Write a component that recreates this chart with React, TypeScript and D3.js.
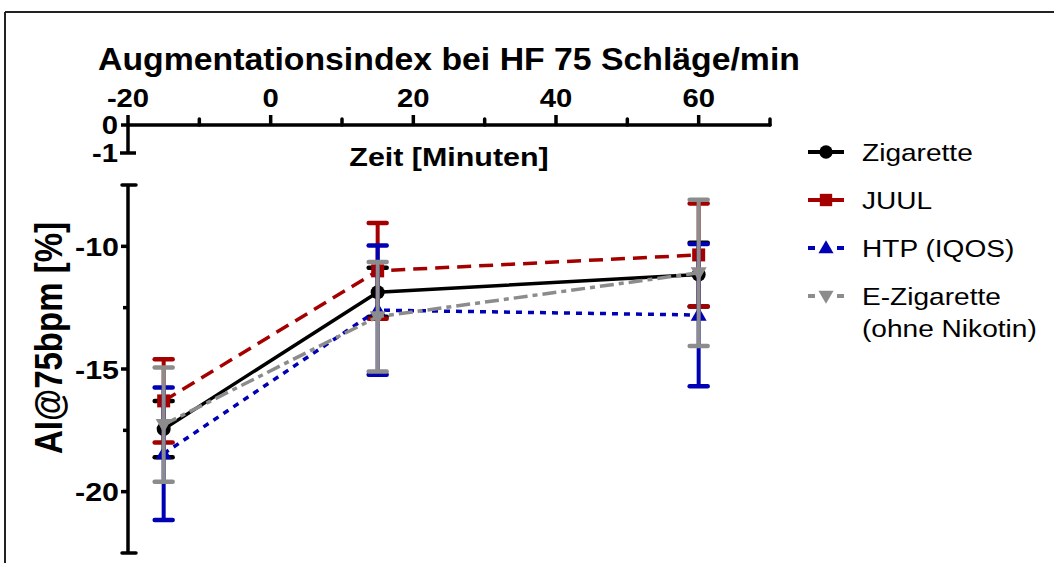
import React from "react";
import * as d3 from "d3";

const times = [-15, 15, 60];
const zigMean = [-17.45, -11.87, -11.15];
const zigErr = [1.15, 1.0, 1.3];
const juulMean = [-16.3, -11.0, -10.35];
const juulErr = [1.7, 1.95, 2.1];
const htpMean = [-18.45, -12.6, -12.8];
const htpErr = [2.7, 2.63, 2.9];
const ecigMean = [-17.27, -12.87, -11.08];
const ecigErr = [2.33, 2.23, 2.98];

const topTicks = [-20, 0, 20, 40, 60];
const topMinor = [-10, 10, 30, 50, 70];
const yTicks = [-10, -15, -20];
const yMinor = [-12.5, -17.5];
const seriesNames = ["Zigarette", "JUUL", "HTP (IQOS)", "E-Zigarette"];

const FONT = "'Liberation Sans', Arial, Helvetica, sans-serif";
const SX = 1.17;

const x = d3.scaleLinear().domain([-20, 70]).range([128, 770]);
const y = d3.scaleLinear().domain([-22.5, -7.5]).range([553, 185]);
const yMini = d3.scaleLinear().domain([-1, 0]).range([153, 125]);

type Series = { name: string; mean: number[]; err: number[]; color: string; dash: string; marker: string };

const series: Series[] = [
  { name: seriesNames[0], mean: zigMean, err: zigErr, color: "#000000", dash: "", marker: "circle" },
  { name: seriesNames[1], mean: juulMean, err: juulErr, color: "#a50000", dash: "14 8", marker: "square" },
  { name: seriesNames[2], mean: htpMean, err: htpErr, color: "#0000b4", dash: "6 6", marker: "up" },
  { name: seriesNames[3], mean: ecigMean, err: ecigErr, color: "#8c8c8c", dash: "14 5 5 5", marker: "down" },
];

function T({ x: tx, y: ty, size, bold, anchor, sx = SX, children }: any) {
  return (
    <text
      transform={`translate(${tx},${ty}) scale(${sx},1)`}
      fontSize={size}
      fontWeight={bold ? "bold" : "normal"}
      textAnchor={anchor || "start"}
      fill="#000"
    >
      {children}
    </text>
  );
}

function Marker({ kind, cx, cy, color, s = 1 }: { kind: string; cx: number; cy: number; color: string; s?: number }) {
  if (kind === "circle") return <circle cx={cx} cy={cy} r={7 * s} fill={color} />;
  if (kind === "square") return <rect x={cx - 6.5 * s} y={cy - 6.5 * s} width={13 * s} height={13 * s} fill={color} />;
  const sym = d3.symbol().type(d3.symbolTriangle).size(110 * s * s)();
  const rot = kind === "down" ? 180 : 0;
  return <path d={sym || ""} transform={`translate(${cx},${cy + (kind === "down" ? -1 : 1)}) rotate(${rot})`} fill={color} />;
}

export default function App() {
  const line = d3
    .line<number>()
    .x((_, i) => x(times[i]))
    .y((d) => y(d));

  const legendY = [152, 200, 248, 296];

  return (
    <svg width={1054} height={563} style={{ position: "absolute", left: 0, top: 0, background: "#fff" }} fontFamily={FONT}>
      <rect x={0} y={0} width={1054} height={563} fill="#fff" />
      {/* frame */}
      <line x1={5} y1={12} x2={1054} y2={12} stroke="#222" strokeWidth={2} />
      <line x1={5} y1={12} x2={5} y2={563} stroke="#222" strokeWidth={2} />

      {/* title */}
      <T x={449} y={70} size={31} bold anchor="middle" sx={1.09}>
        Augmentationsindex bei HF 75 Schläge/min
      </T>

      {/* top axis */}
      <line x1={x(-20)} y1={125} x2={x(70)} y2={125} stroke="#000" strokeWidth={3.5} strokeLinecap="round" />
      {topTicks.map((t) => (
        <g key={"tt" + t}>
          <line x1={x(t)} y1={125} x2={x(t)} y2={115} stroke="#000" strokeWidth={3.5} />
          <T x={x(t)} y={107} size={25} bold anchor="middle">
            {t}
          </T>
        </g>
      ))}
      {topMinor.map((t) => (
        <line key={"tm" + t} x1={x(t)} y1={125} x2={x(t)} y2={119} stroke="#000" strokeWidth={3.5} strokeLinecap="round" />
      ))}
      {/* mini vertical axis */}
      <line x1={128} y1={yMini(0)} x2={128} y2={yMini(-1)} stroke="#000" strokeWidth={3.5} />
      <line x1={121} y1={yMini(0)} x2={128} y2={yMini(0)} stroke="#000" strokeWidth={3.5} />
      <line x1={120} y1={yMini(-1)} x2={136} y2={yMini(-1)} stroke="#000" strokeWidth={3.5} />
      <T x={118} y={yMini(0) + 9} size={25} bold anchor="end">0</T>
      <T x={118} y={yMini(-1) + 9} size={25} bold anchor="end">-1</T>
      <T x={449} y={166} size={26} bold anchor="middle">
        Zeit [Minuten]
      </T>

      {/* y axis */}
      <line x1={128} y1={y(-7.5)} x2={128} y2={y(-22.5)} stroke="#000" strokeWidth={3.5} />
      <line x1={122} y1={y(-7.5)} x2={136} y2={y(-7.5)} stroke="#000" strokeWidth={3.5} strokeLinecap="round" />
      <line x1={122} y1={y(-22.5)} x2={136} y2={y(-22.5)} stroke="#000" strokeWidth={3.5} strokeLinecap="round" />
      {yTicks.map((t) => (
        <g key={"yt" + t}>
          <line x1={121} y1={y(t)} x2={128} y2={y(t)} stroke="#000" strokeWidth={3.5} />
          <T x={119} y={y(t) + 9.5} size={26} bold anchor="end">
            {t}
          </T>
        </g>
      ))}
      {yMinor.map((t) => (
        <line key={"ym" + t} x1={123} y1={y(t)} x2={128} y2={y(t)} stroke="#000" strokeWidth={3.5} />
      ))}
      <text
        transform={`translate(62,338) rotate(-90) scale(1,${SX})`}
        textAnchor="middle"
        fontSize={33}
        fontWeight="bold"
      >
        AI@75bpm [%]
      </text>

      {/* series */}
      {series.map((s) => (
        <g key={s.name}>
          <path d={line(s.mean) || ""} fill="none" stroke={s.color} strokeWidth={3.5} strokeDasharray={s.dash || undefined} />
          {s.mean.map((m, i) => {
            const cx = x(times[i]);
            const top = y(m + s.err[i]);
            const bot = y(m - s.err[i]);
            return (
              <g key={i}>
                <line x1={cx} y1={top} x2={cx} y2={bot} stroke={s.color} strokeWidth={4} />
                <line x1={cx - 9} y1={top} x2={cx + 9} y2={top} stroke={s.color} strokeWidth={4.5} strokeLinecap="round" />
                <line x1={cx - 9} y1={bot} x2={cx + 9} y2={bot} stroke={s.color} strokeWidth={4.5} strokeLinecap="round" />
                <Marker kind={s.marker} cx={cx} cy={y(m)} color={s.color} />
              </g>
            );
          })}
        </g>
      ))}

      {/* legend */}
      {series.map((s, i) => {
        const ly = legendY[i];
        const dashed = s.marker === "up" || s.marker === "down";
        return (
          <g key={"lg" + s.name}>
            {dashed ? (
              <>
                <line x1={808} y1={ly} x2={815} y2={ly} stroke={s.color} strokeWidth={4} />
                <line x1={837} y1={ly} x2={844} y2={ly} stroke={s.color} strokeWidth={4} />
              </>
            ) : (
              <line x1={808} y1={ly} x2={844} y2={ly} stroke={s.color} strokeWidth={4} />
            )}
            <Marker kind={s.marker} cx={826} cy={ly} color={s.color} s={0.95} />
            <T x={862} y={ly + 9} size={24}>
              {s.name}
            </T>
          </g>
        );
      })}
      <T x={862} y={337} size={24}>(ohne Nikotin)</T>
    </svg>
  );
}
